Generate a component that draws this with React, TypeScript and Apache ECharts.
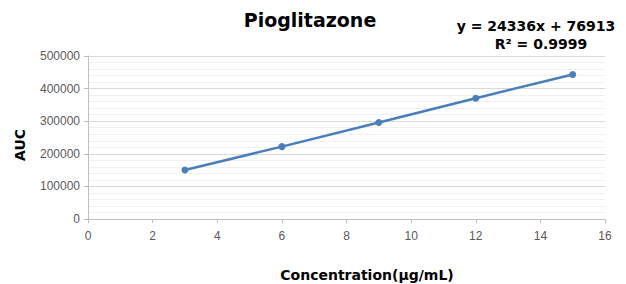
import React, { useEffect, useRef } from "react";
import * as echarts from "echarts";

const concentrations = [3, 6, 9, 12, 15];
const aucValues = [150500, 222000, 296000, 370500, 443500];
const titleText = "Pioglitazone";
const equationLines = ["y = 24336x + 76913", "R² = 0.9999"];
const xAxisTitle = "Concentration(µg/mL)";
const yAxisTitle = "AUC";

const LINE_COLOR = "#4a7ebb";
const FONT = "Liberation Sans, Arial, sans-serif";
const HEAVY = "DejaVu Sans, Liberation Sans, sans-serif";

export default function App() {
  const ref = useRef<HTMLDivElement>(null);
  useEffect(() => {
    if (!ref.current) return;
    const chart = echarts.init(ref.current, null, { renderer: "svg" });
    chart.setOption({
      animation: false,
      backgroundColor: "#ffffff",
      grid: { left: 88, right: 21, top: 56, bottom: 65, containLabel: false },
      xAxis: {
        type: "value",
        min: 0,
        max: 16,
        interval: 2,
        axisLine: { show: true, lineStyle: { color: "#bfbfbf", width: 1 } },
        axisTick: { show: true, length: 4, lineStyle: { color: "#bfbfbf" } },
        axisLabel: { color: "#595959", fontFamily: FONT, fontSize: 12, margin: 11 },
        splitLine: { show: false },
      },
      yAxis: {
        type: "value",
        min: 0,
        max: 500000,
        interval: 100000,
        axisLine: { show: true, lineStyle: { color: "#bfbfbf", width: 1 } },
        axisTick: { show: true, length: 4, lineStyle: { color: "#bfbfbf" } },
        axisLabel: {
          color: "#595959",
          fontFamily: FONT,
          fontSize: 12,
          margin: 8,
          formatter: (v: number) => String(v),
        },
        splitLine: { show: true, lineStyle: { color: "#d9d9d9", width: 1 } },
        minorTick: { show: false, splitNumber: 5 },
        minorSplitLine: { show: true, lineStyle: { color: "#f0f0f0", width: 1 } },
      },
      graphic: [
        {
          type: "text",
          x: 310,
          y: 10,
          style: {
            text: titleText,
            font: `bold 19px ${HEAVY}`,
            fill: "#000000",
            textAlign: "center",
          },
        },
        {
          type: "text",
          x: 536,
          y: 19,
          style: {
            text: equationLines[0],
            font: `bold 14px ${HEAVY}`,
            fill: "#000000",
            textAlign: "center",
          },
        },
        {
          type: "text",
          x: 541,
          y: 37,
          style: {
            text: equationLines[1],
            font: `bold 14px ${HEAVY}`,
            fill: "#000000",
            textAlign: "center",
          },
        },
        {
          type: "text",
          x: 367,
          y: 268,
          style: {
            text: xAxisTitle,
            font: `bold 14px ${HEAVY}`,
            fill: "#000000",
            textAlign: "center",
          },
        },
        {
          type: "text",
          x: 20,
          y: 145,
          rotation: Math.PI / 2,
          style: {
            text: yAxisTitle,
            font: `bold 14px ${HEAVY}`,
            fill: "#000000",
            textAlign: "center",
            textVerticalAlign: "middle",
          },
        },
      ],
      series: [
        {
          type: "line",
          data: concentrations.map((c, i) => [c, aucValues[i]]),
          symbol: "circle",
          symbolSize: 7,
          lineStyle: { color: LINE_COLOR, width: 2.5 },
          itemStyle: { color: LINE_COLOR },
        },
      ],
    });
    return () => chart.dispose();
  }, []);
  return (
    <div
      ref={ref}
      style={{ position: "absolute", left: 0, top: 0, width: 626, height: 284 }}
    />
  );
}
